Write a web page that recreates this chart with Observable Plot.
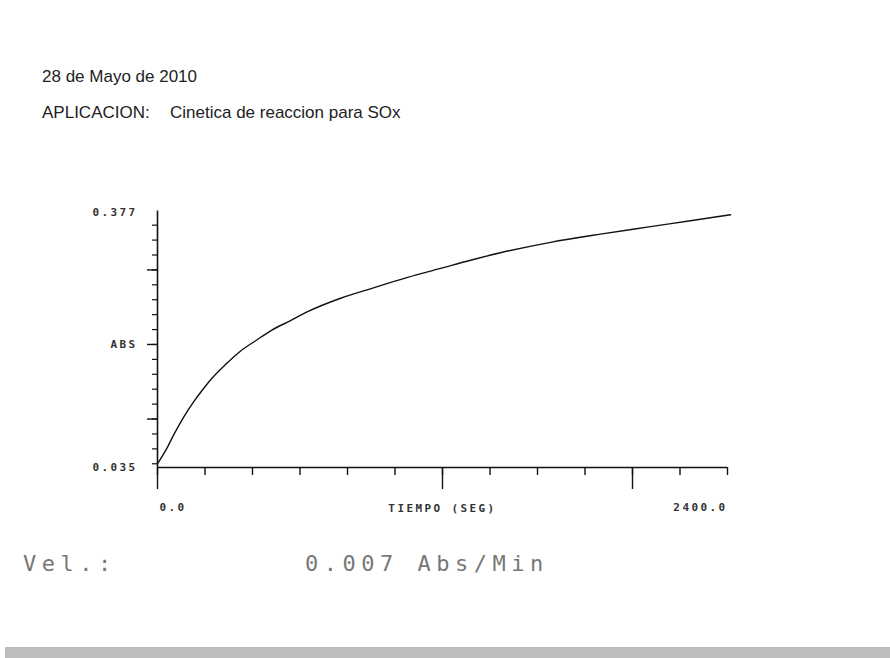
<!DOCTYPE html>
<html>
<head>
<meta charset="utf-8">
<script src="https://cdn.jsdelivr.net/npm/d3@7"></script>
<script src="https://cdn.jsdelivr.net/npm/@observablehq/plot@0.6"></script>
<style>
  html, body { margin: 0; padding: 0; background: #fff; }
  body { width: 890px; height: 658px; position: relative; overflow: hidden; }
  .hdr { position: absolute; font-family: "Liberation Sans", Arial, sans-serif; font-size: 17px; color: #222; line-height: 17px; white-space: nowrap; }
  .lcd { position: absolute; font-family: "DejaVu Sans Mono", monospace; font-size: 22px; color: #777; letter-spacing: 5.5px; line-height: 22px; white-space: nowrap; }
  #chart { position: absolute; left: 0; top: 190px; }
  #bar { position: absolute; left: 5px; right: 0; top: 647px; height: 11px; background: #bdbdbd; }
</style>
</head>
<body>
<div class="hdr" id="fecha" style="left:42px; top:68px;"></div>
<div class="hdr" id="aplic" style="left:42px; top:104px;"></div>
<div class="hdr" id="aplic2" style="left:170px; top:104px;"></div>
<div id="chart"></div>
<div class="lcd" id="vel" style="left:23px; top:553px;"></div>
<div class="lcd" id="velval" style="left:305px; top:553px;"></div>
<div id="bar"></div>
<script>
// ---- data ----
const fecha = "28 de Mayo de 2010";
const aplicacionLabel = "APLICACION:";
const aplicacionTexto = "Cinetica de reaccion para SOx";
const velLabel = "Vel.:";
const velValor = "0.007 Abs/Min";

const tiempo = [0, 38, 72, 109, 152, 194, 236, 286, 349, 413, 480, 560, 632, 771, 909, 1053, 1192, 1318, 1444, 1655, 1865, 2076, 2244, 2413];
const abs    = [0.040, 0.060, 0.081, 0.102, 0.123, 0.141, 0.157, 0.173, 0.191, 0.205, 0.219, 0.232, 0.244, 0.262, 0.276, 0.290, 0.302, 0.313, 0.323, 0.337, 0.348, 0.358, 0.366, 0.374];

const xDomain = [0, 2400];
const yDomain = [0.035, 0.377];
const yAxisTop = 0.379;
const xMinorTicks = d3.range(0, 2401, 200);
const xMajorTicks = [0, 1200, 2000];
const yMinorTicks = d3.range(0.04, 0.3601, 0.02);
const yMajorTicks = [0.1, 0.2, 0.3];
const yLabelValues = [0.035, 0.2, 0.377];
const yLabelTexts = ["0.035", "ABS", "0.377"];
const xLabelStart = {x: 0, text: "0.0"};
const xLabelEnd = {x: 2400, text: "2400.0"};
const xTitle = "TIEMPO (SEG)";

document.getElementById("fecha").textContent = fecha;
document.getElementById("aplic").textContent = aplicacionLabel;
document.getElementById("aplic2").textContent = aplicacionTexto;
document.getElementById("vel").textContent = velLabel;
document.getElementById("velval").textContent = velValor;

const curve = tiempo.map((t, i) => ({t, a: abs[i]}));
const ink = "#111";

const chart = Plot.plot({
  width: 890,
  height: 350,
  marginLeft: 157,
  marginRight: 163,
  marginTop: 22,
  marginBottom: 73,
  x: {domain: xDomain, axis: null},
  y: {domain: yDomain, axis: null},
  style: {background: "transparent", fontFamily: "'DejaVu Sans Mono', monospace", fontSize: "11px", fontWeight: "bold", color: "#333"},
  marks: [
    Plot.axisY(yMinorTicks, {anchor: "left", tickSize: 5, tickFormat: () => "", stroke: ink, strokeWidth: 1.2, label: null}),
    Plot.axisY(yMajorTicks, {anchor: "left", tickSize: 10, tickFormat: () => "", stroke: ink, strokeWidth: 1.4, label: null}),
    Plot.axisY(yLabelValues, {anchor: "left", tickSize: 0, tickPadding: 20, tickFormat: (d, i) => yLabelTexts[i], fill: "#333", label: null}),
    Plot.axisX(xMinorTicks, {anchor: "bottom", tickSize: 8, tickFormat: () => "", stroke: ink, strokeWidth: 1.4, label: null}),
    Plot.axisX(xMajorTicks, {anchor: "bottom", tickSize: 22, tickFormat: () => "", stroke: ink, strokeWidth: 1.4, label: null}),
    Plot.axisX([], {anchor: "bottom", label: xTitle, labelAnchor: "center", labelOffset: 44, labelArrow: "none", fill: "#333"}),
    Plot.text([xLabelStart], {x: "x", y: () => yDomain[0], text: "text", textAnchor: "start", dy: 40, dx: 2, fill: "#333"}),
    Plot.text([xLabelEnd], {x: "x", y: () => yDomain[0], text: "text", textAnchor: "end", dy: 40, dx: 0, fill: "#333"}),
    Plot.ruleX([xDomain[0]], {y1: yDomain[0], y2: yAxisTop, stroke: ink, strokeWidth: 1.6}),
    Plot.ruleY([yDomain[0]], {x1: xDomain[0], x2: xDomain[1], stroke: ink, strokeWidth: 1.6}),
    Plot.line(curve, {x: "t", y: "a", curve: "monotone-x", stroke: ink, strokeWidth: 1.4})
  ]
});
d3.select(chart).selectAll("text").style("letter-spacing", "2.4px");
document.getElementById("chart").appendChild(chart);
</script>
</body>
</html>
